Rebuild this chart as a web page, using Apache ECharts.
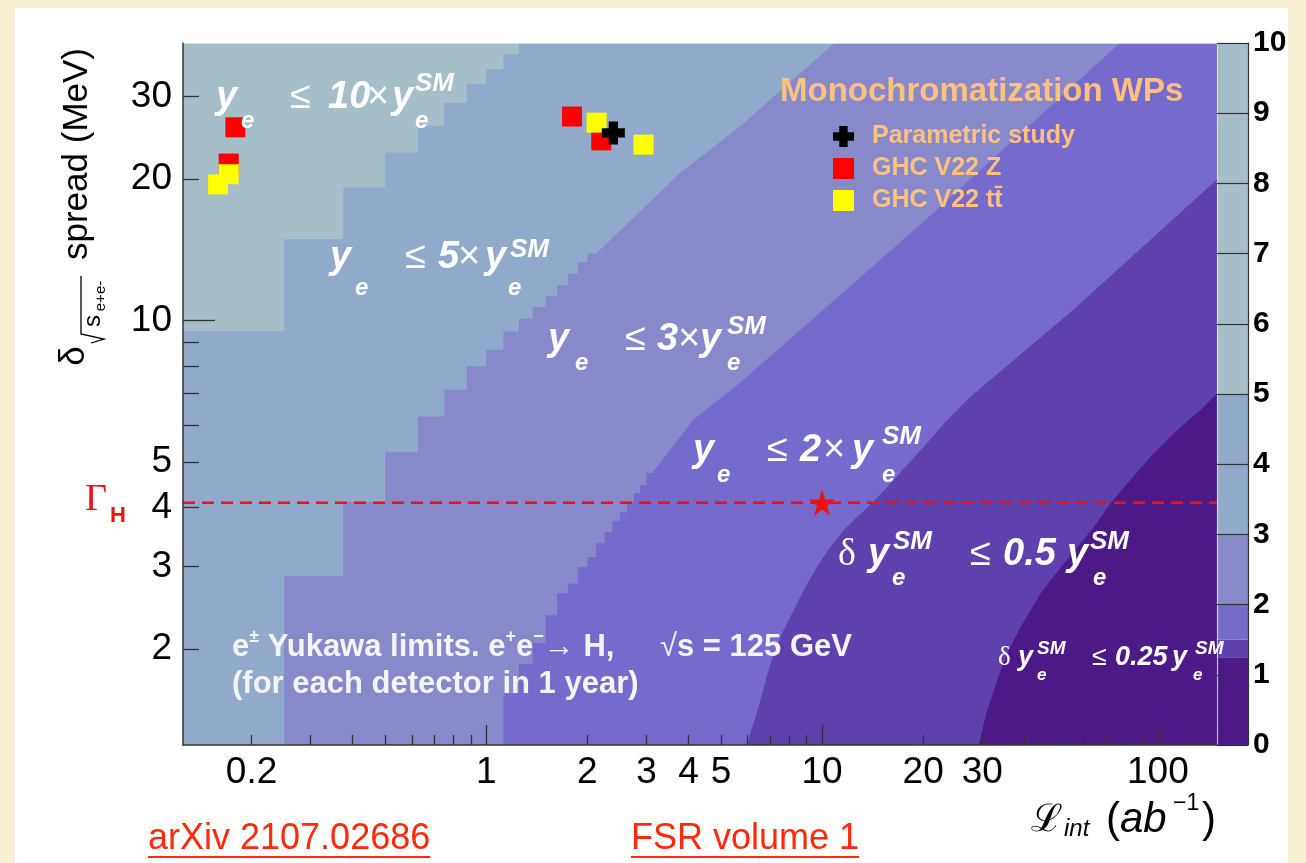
<!DOCTYPE html>
<html>
<head>
<meta charset="utf-8">
<script src="https://cdn.jsdelivr.net/npm/echarts@6/dist/echarts.min.js"></script>
<style>
  html, body { margin: 0; padding: 0; background: #f7efd3; }
  #chart { width: 1306px; height: 863px; }
</style>
</head>
<body>
<div id="chart"></div>
<script>
// ---- axis ranges: integrated luminosity (ab^-1) and e+e- energy spread (MeV)
const L_RANGE = [0.125, 150];
const SPREAD_RANGE = [1.25, 39];
const LUMI_BIN = 0.125;

const xLabelValues = [0.2, 1, 2, 3, 4, 5, 10, 20, 30, 100];
const xMajorTicks = [1, 10, 100];
const xMinorTicks = [0.2, 0.3, 0.4, 0.5, 0.6, 0.7, 0.8, 0.9, 2, 3, 4, 5, 6, 7, 8, 9, 20, 30, 40, 50, 60, 70, 80, 90];
const yLabelValues = [2, 3, 4, 5, 10, 20, 30];
const yMajorTicks = [10];
const yMinorTicks = [2, 3, 4, 5, 6, 7, 8, 9, 20, 30];

// ---- contour levels of the y_e limit and their fill colours
const levels = [0, 1.25, 1.5, 2, 3, 5, 10];
const levelColors = ['#4b1a87', '#5e41ad', '#766bcc', '#8789cb', '#91a9ca', '#a6bec7'];

// ---- level boundaries: binned part [L bin start, spread], then smooth part [L, spread]
const edge5Steps = [[0.125, 9.5], [0.25, 14.9], [0.375, 19.2], [0.5, 22.8], [0.625, 26.0],
  [0.75, 29.1], [0.875, 31.9], [1.0, 34.3], [1.125, 36.9], [1.25, 39]];

const edge3Steps = [[0.125, 1.25], [0.25, 2.86], [0.375, 4.12], [0.5, 5.25], [0.625, 6.25],
  [0.75, 7.13], [0.875, 8.0], [1.0, 8.67], [1.125, 9.49], [1.25, 10.1], [1.375, 10.7],
  [1.5, 11.3], [1.625, 11.9], [1.75, 12.6], [1.875, 13.3], [2.0, 13.9]];
const edge3Curve = [[3.77, 20.6], [5.69, 25.9], [10.9, 39]];

const edge2Steps = [[1.0, 1.25], [1.125, 1.61], [1.25, 1.86], [1.375, 2.06], [1.5, 2.36],
  [1.625, 2.63], [1.75, 2.76], [1.875, 2.99], [2.0, 3.14], [2.125, 3.36], [2.25, 3.55],
  [2.375, 3.75], [2.5, 3.91], [2.625, 4.12], [2.75, 4.3], [2.875, 4.47], [3.0, 4.74]];
const edge2Curve = [[4.13, 6.15], [5.7, 7.38], [19.6, 16.0], [77.1, 39]];

const edge15Curve = [[5.97, 1.25], [6.47, 1.505], [7.01, 1.86], [7.59, 2.16], [8.22, 2.42],
  [8.91, 2.71], [9.66, 2.99], [10.58, 3.30], [11.59, 3.58], [12.71, 3.82], [14.11, 4.09],
  [16.34, 4.58], [20.08, 5.39], [23.6, 6.15], [27.7, 6.90], [31.7, 7.48], [56.1, 10.56], [150, 19.98]];

const edge125Curve = [[29.3, 1.25], [31.0, 1.48], [32.5, 1.63], [34.0, 1.80], [36.4, 2.02],
  [39.0, 2.23], [41.8, 2.42], [44.8, 2.63], [47.9, 2.80], [52.5, 3.04], [57.6, 3.30],
  [64.5, 3.64], [72.4, 4.09], [81.2, 4.51], [95.2, 5.14], [114.4, 5.86], [134.3, 6.46], [150, 7.01]];

// ---- monochromatization working points [L, spread]
const wpParametric = [[2.39, 25.1]];
const wpGhcZ = [[0.179, 25.8], [0.171, 21.6], [1.80, 27.2], [2.20, 24.2]];
const wpGhcTT = [[0.171, 20.5], [0.159, 19.5], [2.13, 26.4], [2.94, 23.7]];

// ---- Higgs width and the highlighted point on it
const gammaH = 4.1;
const starPoint = [[10, 4.1]];

// ---------------------------------------------------------------------------
const lg = v => Math.log10(v);
const toAxis = p => [lg(p[0]), lg(p[1])];
const fmtTick = v => String(+Math.pow(10, v).toPrecision(3));

function boundaryPath(steps, curve) {
  const pts = [];
  (steps || []).forEach(([L, d]) => { pts.push([L, d], [L + LUMI_BIN, d]); });
  (curve || []).forEach(p => pts.push(p));
  return pts;
}
// close a boundary towards the upper-left corner (region of larger limit)
function regionPolygon(path) {
  const first = path[0], last = path[path.length - 1];
  const poly = path.slice();
  if (last[0] >= L_RANGE[1] && last[1] < SPREAD_RANGE[1]) poly.push([L_RANGE[1], SPREAD_RANGE[1]]);
  poly.push([L_RANGE[0], SPREAD_RANGE[1]]);
  if (first[0] > L_RANGE[0]) poly.push([L_RANGE[0], SPREAD_RANGE[0]]);
  return poly;
}

const regions = [
  { color: levelColors[0], pts: [[L_RANGE[0], SPREAD_RANGE[0]], [L_RANGE[1], SPREAD_RANGE[0]],
                                 [L_RANGE[1], SPREAD_RANGE[1]], [L_RANGE[0], SPREAD_RANGE[1]]] },
  { color: levelColors[1], pts: regionPolygon(boundaryPath(null, edge125Curve)) },
  { color: levelColors[2], pts: regionPolygon(boundaryPath(null, edge15Curve)) },
  { color: levelColors[3], pts: regionPolygon(boundaryPath(edge2Steps, edge2Curve)) },
  { color: levelColors[4], pts: regionPolygon(boundaryPath(edge3Steps, edge3Curve)) },
  { color: levelColors[5], pts: regionPolygon(boundaryPath(edge5Steps, null)) }
];

// ---- text helpers
const FONT = '"Liberation Sans", Arial, Helvetica, sans-serif';
const SERIF_FONT = '"Liberation Serif", "DejaVu Serif", serif';
const BI = s => `italic bold ${s}px ${FONT}`;
const B = s => `bold ${s}px ${FONT}`;
const R = s => `${s}px ${FONT}`;
const I = s => `italic ${s}px ${FONT}`;
const SF = s => `${s}px ${SERIF_FONT}`;

const measure = document.createElement('canvas').getContext('2d');
function textWidth(t, font) { measure.font = font; return measure.measureText(t).width; }

function txt(t, x, y, font, fill, extra) {
  return Object.assign({
    type: 'text', x, y, z: 100, silent: true,
    style: { text: t, font, fill, align: 'left', verticalAlign: 'middle' }
  }, extra || {});
}
function run(x0, y, parts, fill) {
  let x = x0; const out = [];
  parts.forEach(([t, font, dy]) => {
    out.push(txt(t, x, y + (dy || 0), font, fill));
    x += textWidth(t, font);
  });
  return out;
}
function pieces(list, fill) {
  return list.map(([t, x, y, font]) => txt(t, x, y, font, fill));
}

const WHITE = '#ffffff';
const graphics = [
  { type: 'rect', z: -100, silent: true, shape: { x: 15, y: 8, width: 1273, height: 855 }, style: { fill: '#ffffff' } }
];

// region labels
graphics.push(...pieces([
  ['y', 216, 98, BI(38)], ['e', 241, 121, BI(24)], ['\u2264', 290, 98, R(38)],
  ['10', 328, 98, BI(38)], ['\u00d7', 367, 98, R(38)], ['y', 392, 98, BI(38)],
  ['SM', 415, 84, BI(26)], ['e', 415, 121, BI(24)],

  ['y', 330, 258, BI(38)], ['e', 355, 288, BI(24)], ['\u2264', 405, 258, R(38)],
  ['5', 438, 258, BI(38)], ['\u00d7', 458, 258, R(38)], ['y', 485, 258, BI(38)],
  ['SM', 510, 250, BI(26)], ['e', 508, 288, BI(24)],

  ['y', 548, 340, BI(38)], ['e', 575, 363, BI(24)], ['\u2264', 625, 340, R(38)],
  ['3', 657, 340, BI(38)], ['\u00d7', 678, 340, R(38)], ['y', 700, 340, BI(38)],
  ['SM', 727, 327, BI(26)], ['e', 727, 363, BI(24)],

  ['y', 693, 451, BI(38)], ['e', 717, 475, BI(24)], ['\u2264', 767, 451, R(38)],
  ['2', 800, 451, BI(38)], ['\u00d7', 823, 451, R(38)], ['y', 852, 451, BI(38)],
  ['SM', 882, 437, BI(26)], ['e', 882, 475, BI(24)],

  ['\u03b4', 838, 555, SF(38)], ['y', 868, 555, BI(38)], ['SM', 893, 542, BI(26)], ['e', 892, 578, BI(24)],
  ['\u2264', 970, 555, R(38)], ['0.5', 1003, 555, BI(38)], ['y', 1067, 555, BI(38)],
  ['SM', 1090, 542, BI(26)], ['e', 1093, 578, BI(24)],

  ['\u03b4', 998, 658, SF(27)], ['y', 1018, 658, BI(27)], ['SM', 1037, 649, BI(19)], ['e', 1037, 675, BI(17)],
  ['\u2264', 1092, 658, R(27)], ['0.25', 1115, 658, BI(27)], ['y', 1172, 658, BI(27)],
  ['SM', 1195, 649, BI(19)], ['e', 1193, 675, BI(17)]
], WHITE));

// process description
const NOTE = '#f4f4f6';
graphics.push(...run(232, 647, [
  ['e', B(31)], ['\u00b1', B(18), -10], [' Yukawa limits. e', B(31)], ['+', B(18), -10],
  ['e', B(31)], ['\u2212', B(18), -10], ['\u2192 H,', B(31)]
], NOTE));
graphics.push(...run(660, 647, [['\u221a', R(31)], ['s = 125 GeV', B(31)]], NOTE));
graphics.push(txt('(for each detector in 1 year)', 232, 684, B(31), NOTE));

// legend title
graphics.push(txt('Monochromatization WPs', 780, 92, B(33), '#ffc080'));

// Higgs width marker
graphics.push(txt('\u0393', 85, 500, SF(38), '#ee1111'));
graphics.push(txt('H', 110, 516, B(22), '#ee1111'));

// x axis title
graphics.push(...pieces([
  ['\u2112', 1031, 821, SF(38)], ['int', 1064, 829, I(24)], ['(', 1106, 820, R(42)],
  ['ab', 1120, 820, I(42)], ['\u22121', 1173, 804, R(23)], [')', 1202, 820, R(42)]
], '#000'));

// y axis title (rotated)
const ROT = { rotation: Math.PI / 2 };
function rtxt(t, x, y, font) {
  const e = txt(t, x, y, font, '#000', ROT);
  e.style.align = 'center';
  return e;
}
graphics.push(rtxt('spread (MeV)', 77, 154, R(35)));
graphics.push(rtxt('\u03b4', 74, 356, R(35)));
graphics.push(rtxt('s', 93, 321, R(24)));
graphics.push(rtxt('e+e-', 101, 296, R(15)));
graphics.push({ type: 'polyline', z: 100, silent: true,
  shape: { points: [[91, 343], [104, 339], [81, 334], [81, 276]] },
  style: { stroke: '#000', lineWidth: 1.3, fill: null } });

// references
const LINK = '#ff2a0a';
function link(t, x, y) {
  const f = R(36);
  const w = textWidth(t, f);
  return [txt(t, x, y, f, LINK),
    { type: 'line', z: 100, silent: true, shape: { x1: x, y1: y + 18, x2: x + w, y2: y + 18 },
      style: { stroke: LINK, lineWidth: 2 } }];
}
graphics.push(...link('arXiv 2107.02686', 148, 839));
graphics.push(...link('FSR volume 1', 631, 839));

// ---- series
const CROSS = 'path://M3,0 L7,0 L7,3 L10,3 L10,7 L7,7 L7,10 L3,10 L3,7 L0,7 L0,3 L3,3 Z';
const STAR = 'path://M50,0 L61.8,35.3 L99,35.3 L69,57.3 L80.4,92.7 L50,70.9 L19.6,92.7 L31,57.3 L1,35.3 L38.2,35.3 Z';

const series = [
  {
    type: 'custom', xAxisIndex: 0, yAxisIndex: 0, silent: true, z: 1,
    data: regions.map(r => toAxis(r.pts[0])),
    renderItem: (params, api) => {
      const r = regions[params.dataIndex];
      return {
        type: 'polygon', z2: params.dataIndex,
        shape: { points: r.pts.map(p => api.coord(toAxis(p))) },
        style: { fill: r.color }
      };
    }
  },
  {
    name: '\u0393H', type: 'line', xAxisIndex: 0, yAxisIndex: 0, z: 3, silent: true, symbol: 'none',
    data: [[lg(L_RANGE[0]), lg(gammaH)], [lg(L_RANGE[1]), lg(gammaH)]],
    lineStyle: { color: '#ee1111', width: 2.5, type: [12, 7] }
  },
  {
    name: 'GHC V22 Z', type: 'scatter', xAxisIndex: 0, yAxisIndex: 0, z: 4, silent: true,
    symbol: 'rect', symbolSize: 20, itemStyle: { color: '#ff0000', opacity: 1 },
    data: wpGhcZ.map(toAxis)
  },
  {
    name: 'GHC V22 tt\u0304', type: 'scatter', xAxisIndex: 0, yAxisIndex: 0, z: 5, silent: true,
    symbol: 'rect', symbolSize: 20, itemStyle: { color: '#ffff00', opacity: 1 },
    data: wpGhcTT.map(toAxis)
  },
  {
    name: 'Parametric study', type: 'scatter', xAxisIndex: 0, yAxisIndex: 0, z: 6, silent: true,
    symbol: CROSS, symbolSize: 23, itemStyle: { color: '#000000', opacity: 1 },
    data: wpParametric.map(toAxis)
  },
  {
    name: 'star', type: 'scatter', xAxisIndex: 0, yAxisIndex: 0, z: 6, silent: true,
    symbol: STAR, symbolSize: 26, itemStyle: { color: '#ee1111', opacity: 1 },
    data: starPoint.map(toAxis)
  }
];
// colour scale: one stacked block per level interval
for (let i = 0; i < levelColors.length; i++) {
  series.push({
    type: 'bar', xAxisIndex: 2, yAxisIndex: 2, stack: 'scale', silent: true,
    barWidth: '100%', data: [levels[i + 1] - levels[i]],
    itemStyle: { color: levelColors[i] }
  });
}

const tickLine = { color: '#333', width: 1.3 };
const axisLine = { show: true, onZero: false, lineStyle: { color: '#333', width: 1.5 } };
const frameLine = { show: true, onZero: false, lineStyle: { color: 'rgba(235,238,248,0.75)', width: 1.2 } };
const tickLabel = { fontFamily: FONT, fontSize: 37, color: '#000', formatter: fmtTick };
const bare = { axisTick: { show: false }, axisLabel: { show: false }, splitLine: { show: false } };

const option = {
  animation: false,
  backgroundColor: '#f7efd3',
  grid: [
    { left: 183, right: 89, top: 43, bottom: 118, outerBoundsMode: 'none' },
    { left: 1217, width: 31, top: 43, bottom: 118, outerBoundsMode: 'none' }
  ],
  xAxis: [
    { gridIndex: 0, type: 'value', position: 'bottom', z: 10, min: lg(L_RANGE[0]), max: lg(L_RANGE[1]),
      axisLine, splitLine: { show: false },
      axisTick: { show: true, inside: true, length: 20, customValues: xMajorTicks.map(lg), lineStyle: tickLine },
      axisLabel: Object.assign({ show: true, margin: 9, customValues: xLabelValues.map(lg) }, tickLabel) },
    { gridIndex: 0, type: 'value', position: 'bottom', z: 10, min: lg(L_RANGE[0]), max: lg(L_RANGE[1]),
      axisLine: { show: false, onZero: false }, splitLine: { show: false }, axisLabel: { show: false },
      axisTick: { show: true, inside: true, length: 10, customValues: xMinorTicks.map(lg), lineStyle: tickLine } },
    { gridIndex: 1, type: 'category', data: ['scale'], show: false },
    Object.assign({ gridIndex: 0, type: 'value', position: 'top', z: 9, min: lg(L_RANGE[0]), max: lg(L_RANGE[1]),
      axisLine: frameLine }, bare)
  ],
  yAxis: [
    { gridIndex: 0, type: 'value', position: 'left', z: 10, min: lg(SPREAD_RANGE[0]), max: lg(SPREAD_RANGE[1]),
      axisLine, splitLine: { show: false },
      axisTick: { show: true, inside: true, length: 32, customValues: yMajorTicks.map(lg), lineStyle: tickLine },
      axisLabel: Object.assign({ show: true, margin: 11, customValues: yLabelValues.map(lg) }, tickLabel) },
    { gridIndex: 0, type: 'value', position: 'left', z: 10, min: lg(SPREAD_RANGE[0]), max: lg(SPREAD_RANGE[1]),
      axisLine: { show: false, onZero: false }, splitLine: { show: false }, axisLabel: { show: false },
      axisTick: { show: true, inside: true, length: 16, customValues: yMinorTicks.map(lg), lineStyle: tickLine } },
    { gridIndex: 1, type: 'value', position: 'right', z: 10, min: levels[0], max: levels[levels.length - 1], interval: 1,
      axisLine: { show: true, onZero: false, lineStyle: { color: '#333', width: 1.2 } },
      axisTick: { show: true, inside: true, length: 31, lineStyle: { color: '#333', width: 1.2 } },
      axisLabel: { fontFamily: FONT, fontWeight: 'bold', fontSize: 30, color: '#000', margin: 5 },
      splitLine: { show: false } },
    Object.assign({ gridIndex: 0, type: 'value', position: 'right', z: 9, min: lg(SPREAD_RANGE[0]), max: lg(SPREAD_RANGE[1]),
      axisLine: frameLine }, bare)
  ],
  legend: {
    data: ['Parametric study', 'GHC V22 Z', 'GHC V22 tt\u0304'],
    orient: 'vertical', left: 833, top: 124, padding: 0, itemWidth: 21, itemHeight: 21, itemGap: 7,
    selectedMode: false,
    textStyle: { color: '#ffc080', fontFamily: FONT, fontWeight: 'bold', fontSize: 25, lineHeight: 21, padding: [0, 0, 0, 13] }
  },
  graphic: { elements: graphics },
  series
};

const chart = echarts.init(document.getElementById('chart'), null, { renderer: 'canvas', width: 1306, height: 863 });
chart.setOption(option);
</script>
</body>
</html>
